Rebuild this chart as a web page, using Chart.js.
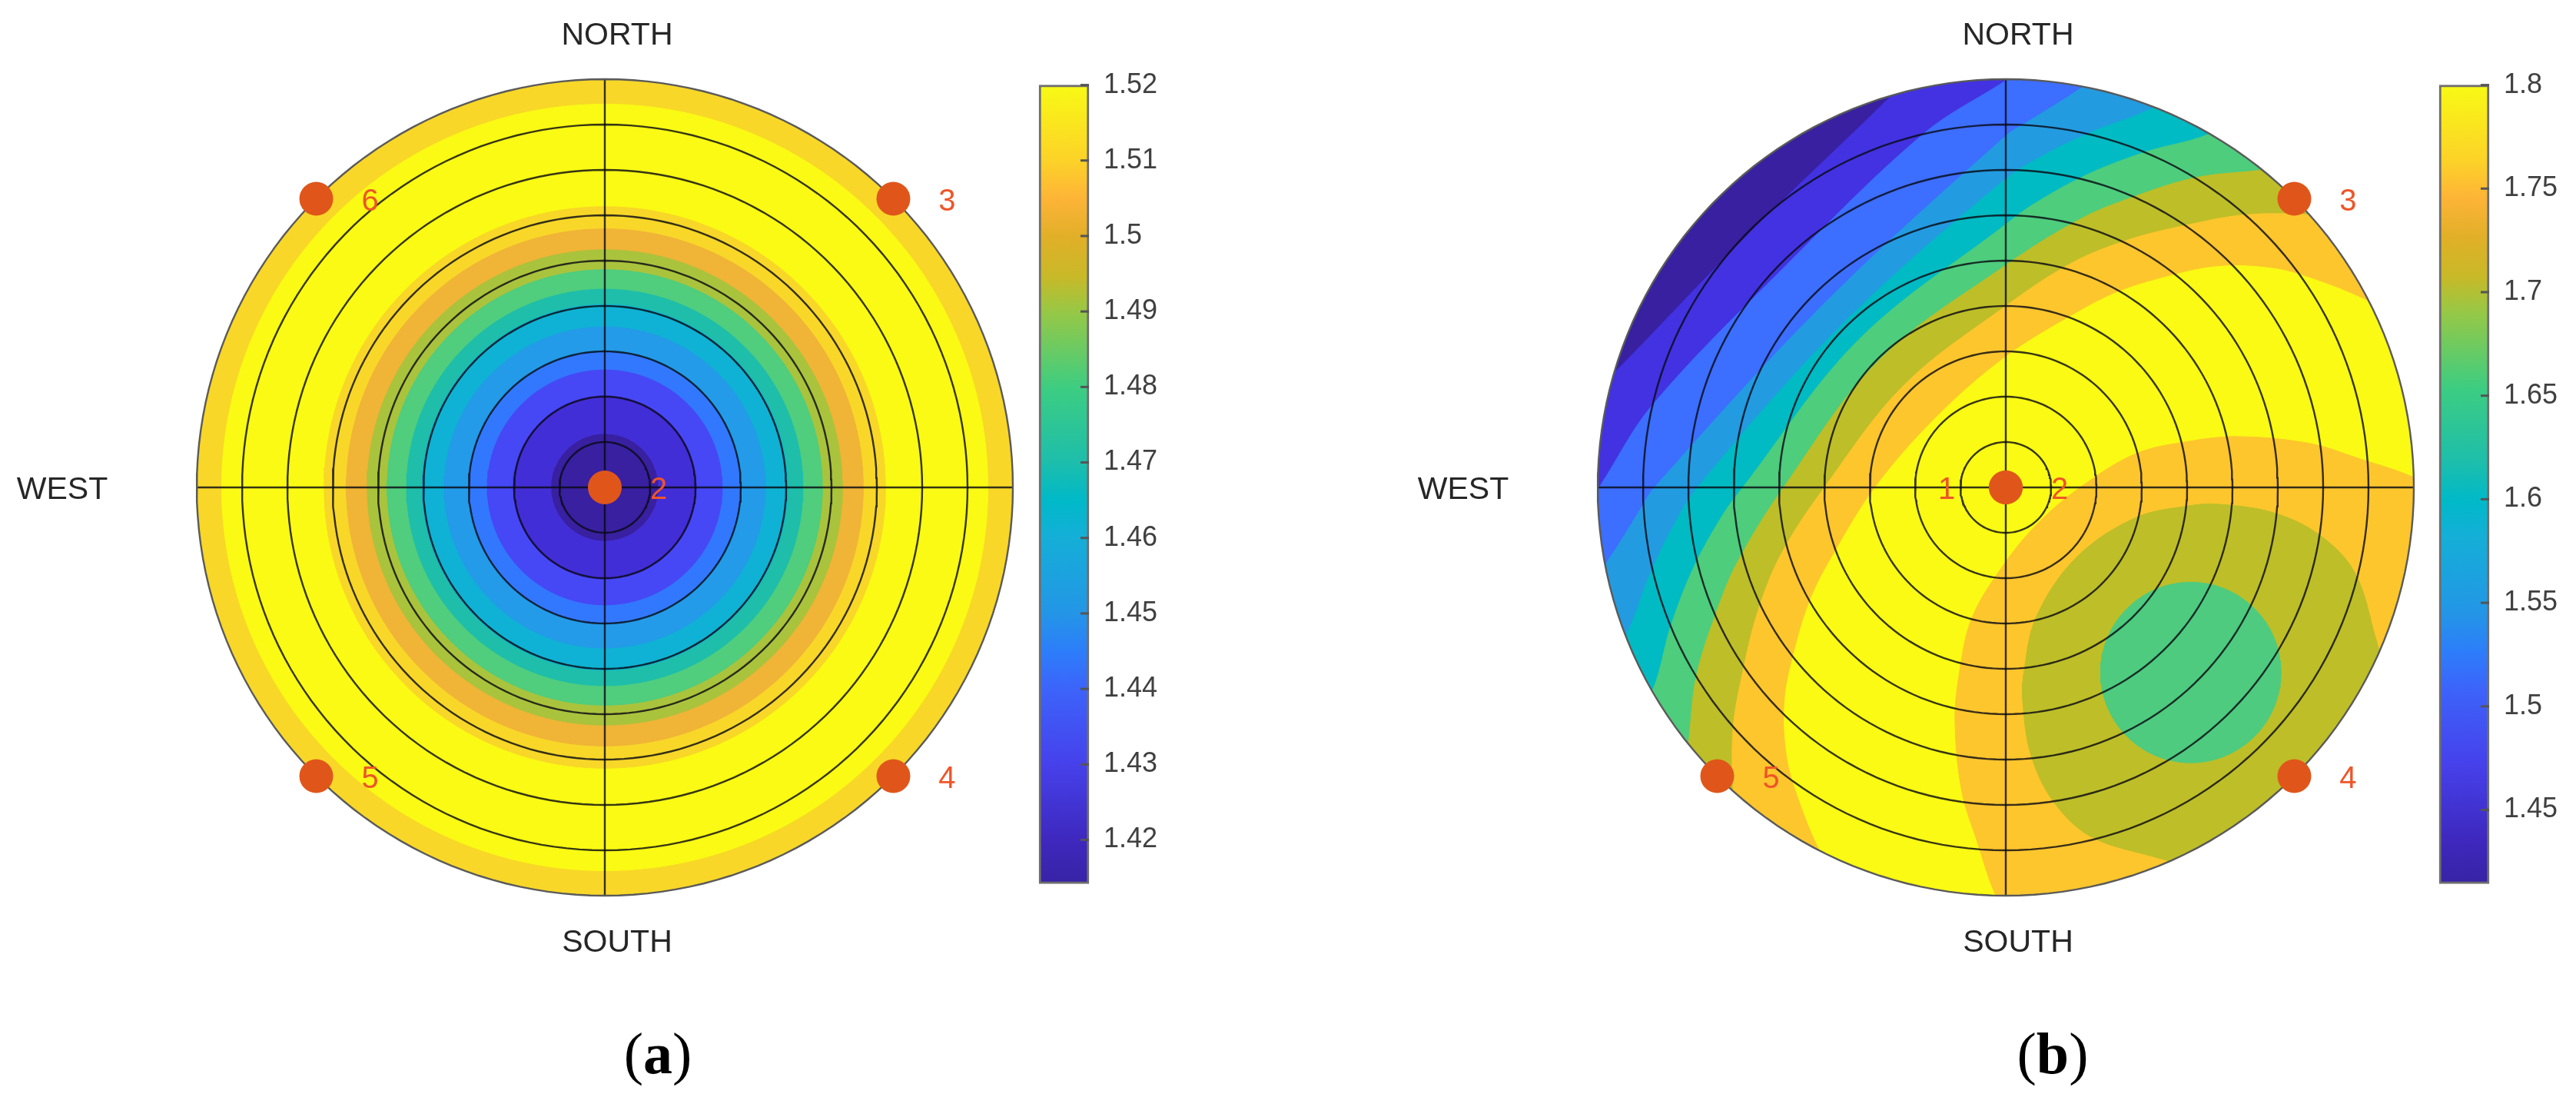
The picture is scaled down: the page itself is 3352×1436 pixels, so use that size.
<!DOCTYPE html>
<html>
<head>
<meta charset="utf-8">
<title>Polar contour maps</title>
<script src="https://cdn.jsdelivr.net/npm/chart.js@4/dist/chart.umd.js"></script>
<style>
    html, body { margin: 0; padding: 0; background: #fff; }
    #page { position: relative; width: 3352px; height: 1436px; overflow: hidden; }
    canvas { position: absolute; filter: blur(0.6px); }
    .caption { position: absolute; top: 1320px; width: 200px; text-align: center; font: 76px/100px "Liberation Serif", serif; color: #000; }
    .caption b { font-weight: bold; }
</style>
</head>
<body>
<div id="page">
    <canvas id="discA" width="1330" height="1300" style="left:0;top:0"></canvas>
    <canvas id="barA" width="180" height="1120" style="left:1340px;top:70px"></canvas>
    <canvas id="discB" width="1455" height="1300" style="left:1700px;top:0"></canvas>
    <canvas id="barB" width="185" height="1120" style="left:3162px;top:70px"></canvas>
    <div class="caption" style="left:756px">(<b>a</b>)</div>
    <div class="caption" style="left:2571px">(<b>b</b>)</div>
</div>
<script>
// axis is zenith angle, 0 at the centre and 90 at the rim
const ringAngles = [10, 20, 30, 40, 50, 60, 70, 80];
const rimAngle = 90;
const compassLabels = ['NORTH', 'SOUTH', 'WEST'];

// panel a: concentric bands, outer radius of each one
const bandRadiiA = [90, 84.5, 61.9, 57, 52.4, 48, 43.7, 40.3, 35.4, 29.8, 25.9, 20.2, 11.7];
const markerLabelsA = ['2', '3', '4', '5', '6'];
const markerXA = [0, 63.64, 63.64, -63.64, -63.64];
const markerYA = [0, 63.64, -63.64, -63.64, 63.64];
const barTicksA = [1.42, 1.43, 1.44, 1.45, 1.46, 1.47, 1.48, 1.49, 1.5, 1.51, 1.52];
const barMinA = 1.4142;
const barMaxA = 1.52;

// panel b: contour lines, from the NW-SE axis out to the NE rim.
// the field is mirrored about that axis so the SW half comes from mirror()
const contour1 = [[-56.3, 56.3], [-25.7, 85.9], [-15, 97]];
const contour2 = [[-48.7, 48.7], [-18.1, 78], [-0.45, 89.4], [14, 99]];
const contour3 = [[-40.3, 40.3], [0, 77.5], [5, 80.7], [16.5, 88], [28, 97]];
const contour4 = [[-36, 36], [0, 68], [9.8, 74], [19.5, 78.6], [31.9, 83.4], [46, 92]];
const contour5 = [[-32.5, 32.5], [0, 58], [6.2, 62.5], [18, 69], [31, 74], [44.3, 77.7], [58, 85]];
const contour6 = [[-28, 28], [0, 49], [16.5, 59.2], [28, 64], [41.9, 68.3], [55.8, 69.9], [72, 72]];
const contour7 = [[-22.5, 22.5], [0, 40], [14.6, 49.5], [27.4, 54.7], [40.7, 58], [52.8, 60.1], [66.7, 60.1], [85, 58]];
const contour8 = [[-15.4, 15.4], [0, 28.8], [15.3, 38.3], [24.3, 42.9], [34.6, 46.2], [46.7, 48.7], [58.8, 48.3], [67.9, 45.9], [79.4, 41.3], [95, 33]];
const contour9 = [[7.5, -7.5], [16.4, 0], [28.6, 7.4], [40.7, 10.2], [51.6, 11.2], [67, 9.7], [78.4, 6.2], [89.3, 2.5], [100, -3], [130, -30]];
const contour10 = [[15.5, -15.5], [28.6, -6.7], [40.7, -4], [46.7, -3.7], [58.8, -5.5], [69.1, -10.4], [77, -18.8], [81.8, -34], [85, -45], [105, -70], [120, -120]];
const spotCentreB = [40.8, -40.8];
const spotRadiusB = 19.9;
const markerLabelsB = ['1', '2', '3', '4', '5'];
const markerXB = [0, 0, 63.64, 63.64, -63.64];
const markerYB = [0, 0, 63.64, -63.64, -63.64];
const barTicksB = [1.45, 1.5, 1.55, 1.6, 1.65, 1.7, 1.75, 1.8];
const barMinB = 1.4144;
const barMaxB = 1.8;

// colours
const bandColorsA = ['#f8d728', '#fafa14', '#f8d728', '#f0b437', '#aac33c', '#50cd7d', '#1ebeaa',
    '#0fb2d4', '#239be8', '#3278ff', '#4648f5', '#422ed6', '#3820a0'];
const bandColorsB = ['#3820a0', '#4232e1', '#3c6eff', '#239be1', '#00bbc3', '#4ecd7d', '#bebe28', '#fdc62d', '#fafa14',
    '#fdc62d', '#bebe28', '#4ecb7e'];
const cmapStops = [0, 0.055, 0.15, 0.245, 0.29, 0.34, 0.435, 0.48, 0.53, 0.62, 0.715, 0.76, 0.81, 0.858, 0.905, 1];
const cmapColors = ['#3723a5', '#3e28be', '#4641eb', '#3c64fa', '#2d7dfa', '#2396e6', '#14afd7', '#00b9c8',
    '#1ebeaa', '#3ccd82', '#96c846', '#c8b928', '#e1af28', '#fdb437', '#fcd228', '#f8fa14'];
const markerColor = '#e0561a';
const markerTextColor = '#ee5528';
const textColor = '#262626';

function mirror(p) {
    return [-p[1], -p[0]];
}

function circlePoints(cx, cy, r) {
    const pts = [];
    for (let a = 0; a <= 360; a += 2) {
        const t = a * Math.PI / 180;
        pts.push([cx + r * Math.cos(t), cy + r * Math.sin(t)]);
    }
    return pts;
}

// whole closed outline of a contour: SW half, then NE half, shut far outside the rim
function closedContour(half, closing) {
    const full = half.concat(closing);
    return full.map(mirror).reverse().concat(full.slice(1));
}

function toXY(pts) {
    return pts.map(p => ({x: p[0], y: p[1]}));
}

function bandDataset(pts, color, i, smooth) {
    return {
        data: toXY(pts), showLine: true, fill: 'shape', backgroundColor: color,
        borderColor: color, borderWidth: 1, pointRadius: 0, tension: smooth,
        capBezierPoints: false, order: 100 - i, isBand: true
    };
}

function gridDatasets() {
    const lines = ringAngles.map(r => ({
        data: toXY(circlePoints(0, 0, r)), showLine: true, borderColor: 'rgba(10,10,20,0.82)',
        borderWidth: 2.4, pointRadius: 0, order: 3
    }));
    lines.push({data: [{x: -rimAngle, y: 0}, {x: rimAngle, y: 0}], showLine: true, borderColor: 'rgba(10,10,20,0.82)', borderWidth: 2.4, pointRadius: 0, order: 3});
    lines.push({data: [{x: 0, y: -rimAngle}, {x: 0, y: rimAngle}], showLine: true, borderColor: 'rgba(10,10,20,0.82)', borderWidth: 2.4, pointRadius: 0, order: 3});
    lines.push({data: toXY(circlePoints(0, 0, rimAngle)), showLine: true, borderColor: '#5a5a5a', borderWidth: 2.4, pointRadius: 0, order: 2, clip: false});
    return lines;
}

function markerDataset(xs, ys) {
    return {
        data: xs.map((x, i) => ({x: x, y: ys[i]})), showLine: false, pointRadius: 22,
        pointBackgroundColor: markerColor, pointBorderWidth: 0, order: 1, clip: false
    };
}

// bands are clipped to the disc, everything drawn after them is not
const discClip = {
    id: 'discClip',
    beforeDatasetsDraw(chart) {
        const {x, y} = chart.scales;
        const ctx = chart.ctx;
        ctx.save();
        ctx.beginPath();
        ctx.arc(x.getPixelForValue(0), y.getPixelForValue(0), x.getPixelForValue(rimAngle) - x.getPixelForValue(0), 0, Math.PI * 2);
        ctx.clip();
        chart.$clipOn = true;
    },
    beforeDatasetDraw(chart, args) {
        if (chart.$clipOn && !chart.data.datasets[args.index].isBand) {
            chart.ctx.restore();
            chart.$clipOn = false;
        }
    }
};

const discLabels = {
    id: 'discLabels',
    afterDraw(chart, args, opts) {
        const {x, y} = chart.scales;
        const ctx = chart.ctx;
        const cx = x.getPixelForValue(0);
        const cy = y.getPixelForValue(0);
        ctx.save();
        ctx.textAlign = 'center';
        ctx.textBaseline = 'middle';
        ctx.fillStyle = textColor;
        ctx.font = '41px "Liberation Sans"';
        ctx.fillText(compassLabels[0], cx + 16, 47);
        ctx.fillText(compassLabels[1], cx + 16, 1227);
        ctx.fillText(compassLabels[2], cx - 706, cy + 4);
        ctx.fillStyle = markerTextColor;
        ctx.font = '40px "Liberation Sans"';
        opts.labels.forEach((label, i) => {
            const off = label === '1' ? -77 : 70;
            ctx.fillText(label, x.getPixelForValue(opts.xs[i]) + off, y.getPixelForValue(opts.ys[i]) + 4);
        });
        ctx.restore();
    }
};

function drawDisc(id, datasets, labels, xs, ys, padding) {
    new Chart(document.getElementById(id), {
        type: 'scatter',
        data: {datasets: datasets},
        options: {
            responsive: false,
            animation: false,
            devicePixelRatio: 1,
            layout: {padding: padding, autoPadding: false},
            plugins: {
                legend: {display: false},
                tooltip: {enabled: false},
                discLabels: {labels: labels, xs: xs, ys: ys}
            },
            scales: {
                x: {type: 'linear', min: -rimAngle, max: rimAngle, display: false},
                y: {type: 'linear', min: -rimAngle, max: rimAngle, display: false}
            }
        },
        plugins: [discClip, discLabels]
    });
}

const barTickMarks = {
    id: 'barTickMarks',
    afterDatasetsDraw(chart) {
        const {y} = chart.scales;
        const right = chart.chartArea.right;
        const ctx = chart.ctx;
        ctx.save();
        ctx.strokeStyle = '#555';
        ctx.lineWidth = 3;
        y.ticks.forEach(t => {
            const py = y.getPixelForValue(t.value);
            ctx.beginPath();
            ctx.moveTo(right - 11, py);
            ctx.lineTo(right, py);
            ctx.stroke();
        });
        ctx.restore();
    }
};

function drawBar(id, tickValues, min, max, axisWidth) {
    new Chart(document.getElementById(id), {
        type: 'bar',
        data: {
            labels: [''],
            datasets: [{
                data: [[min, max]],
                backgroundColor(c) {
                    const area = c.chart.chartArea;
                    if (!area) return cmapColors[0];
                    const g = c.chart.ctx.createLinearGradient(0, area.bottom, 0, area.top);
                    cmapStops.forEach((s, i) => g.addColorStop(s, cmapColors[i]));
                    return g;
                },
                borderColor: '#6e6e6e',
                borderWidth: 3,
                borderSkipped: false,
                barPercentage: 1,
                categoryPercentage: 1,
                clip: false
            }]
        },
        options: {
            responsive: false,
            animation: false,
            devicePixelRatio: 1,
            layout: {padding: {left: 12, top: 33, bottom: 24, right: 0}},
            plugins: {legend: {display: false}, tooltip: {enabled: false}},
            scales: {
                x: {display: false},
                y: {
                    position: 'right',
                    min: min,
                    max: max,
                    grid: {display: false, drawTicks: false},
                    border: {display: false},
                    afterBuildTicks(scale) {
                        scale.ticks = tickValues.map(v => ({value: v}));
                    },
                    afterFit(scale) {
                        scale.width = axisWidth;
                    },
                    ticks: {
                        autoSkip: false,
                        padding: 19,
                        color: '#404040',
                        font: {family: '"Liberation Sans"', size: 36},
                        callback: v => String(v)
                    }
                }
            }
        },
        plugins: [barTickMarks]
    });
}

const datasetsA = bandRadiiA.map((r, i) => bandDataset(circlePoints(0, 0, r), bandColorsA[i], i, 0))
    .concat(gridDatasets(), [markerDataset(markerXA, markerYA)]);

const closeSE = [[130, 130], [130, -130]];
const outlinesB = [
    circlePoints(0, 0, rimAngle + 2),
    closedContour(contour1, closeSE),
    closedContour(contour2, closeSE),
    closedContour(contour3, closeSE),
    closedContour(contour4, closeSE),
    closedContour(contour5, closeSE),
    closedContour(contour6, closeSE),
    closedContour(contour7, closeSE),
    closedContour(contour8, closeSE),
    closedContour(contour9, [[130, -130]]),
    closedContour(contour10, []),
    circlePoints(spotCentreB[0], spotCentreB[1], spotRadiusB)
];
const datasetsB = outlinesB.map((pts, i) => bandDataset(pts, bandColorsB[i], i, i === 0 || i === 11 ? 0 : 0.35))
    .concat(gridDatasets(), [markerDataset(markerXB, markerYB)]);

drawDisc('discA', datasetsA, markerLabelsA, markerXA, markerYA, {left: 256, right: 12, top: 103, bottom: 135});
drawDisc('discB', datasetsB, markerLabelsB, markerXB, markerYB, {left: 379, right: 14, top: 103, bottom: 135});
drawBar('barA', barTicksA, barMinA, barMaxA, 103);
drawBar('barB', barTicksB, barMinB, barMaxB, 108);
</script>
</body>
</html>
